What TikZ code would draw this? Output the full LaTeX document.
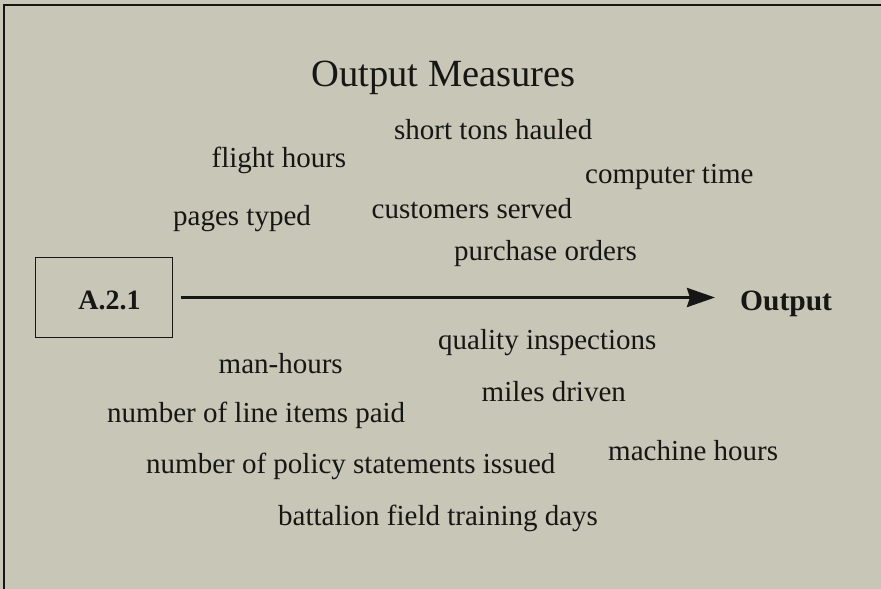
\documentclass[tikz,border=0pt]{standalone}
\usepackage{fontspec}
\setmainfont{Liberation Serif}
\usetikzlibrary{arrows.meta,calc}
\definecolor{bg}{RGB}{199,198,183}
\definecolor{ink}{RGB}{22,22,20}
\begin{document}
\begin{tikzpicture}[x=1pt,y=-1pt,
  txt/.style={inner sep=0pt,anchor=base west,text=ink,font=\fontsize{29}{34}\selectfont},
  boldtxt/.style={inner sep=0pt,text=ink,font=\fontsize{29.5}{34}\selectfont\bfseries},
  frame/.style={draw=ink,line width=1.6pt},
  flow/.style={draw=ink,line width=3.3pt,-{Stealth[length=28pt,width=19pt,inset=3pt]}}]
\useasboundingbox (0,0) rectangle (881,589);
\fill[bg] (0,0) rectangle (881,589);
% scan border (top and left only)
\coordinate (tl) at (4,5);
\coordinate (tr) at (881,5);
\coordinate (bl) at (4,589);
\draw[frame] (tr) -- (tl) -- (bl);
% title
\node[inner sep=0pt,anchor=base,text=ink,font=\fontsize{38.5}{44}\selectfont] (title) at (443.5,86.5) {Output Measures};
% measures above
\node[txt] (m1) at (394,139) {short tons hauled};
\node[txt] (m2) at (211.5,167.5) {flight hours};
\node[txt] (m3) at (585,183) {computer time};
\node[txt] (m4) at (173,225.5) {pages typed};
\node[txt] (m5) at (371.5,218.3) {customers served};
\node[txt] (m6) at (454,260) {purchase orders};
% box and arrow
\node[draw=ink,line width=1.5pt,minimum width=137pt,minimum height=80pt,inner sep=0pt] (box) at (104.2,297.5) {};
\node[boldtxt,font=\fontsize{28}{34}\selectfont\bfseries,anchor=base] (lbl) at (109.5,309.3) {A.2.1};
\node[boldtxt,anchor=base west] (out) at (740,310) {Output};
\draw[flow] ([xshift=7.5]box.east) -- ([xshift=-25]out.west |- box.east);
% measures below
\node[txt] (m7) at (438,349.3) {quality inspections};
\node[txt] (m8) at (218.5,373) {man-hours};
\node[txt] (m9) at (481.5,401.5) {miles driven};
\node[txt] (m10) at (107,422.7) {number of line items paid};
\node[txt] (m11) at (608,460) {machine hours};
\node[txt] (m12) at (146,473.3) {number of policy statements issued};
\node[txt] (m13) at (278,525) {battalion field training days};
\end{tikzpicture}
\end{document}
